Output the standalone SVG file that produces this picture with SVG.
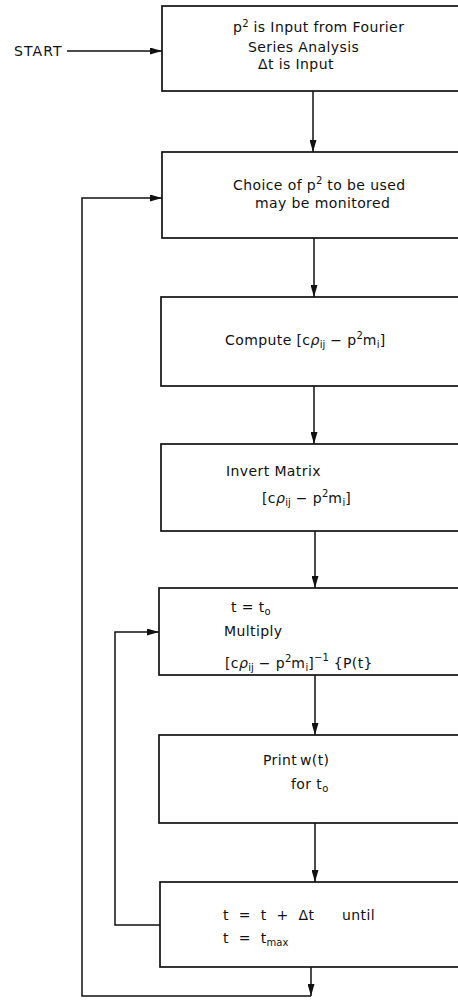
<svg xmlns="http://www.w3.org/2000/svg" width="458" height="1001" viewBox="0 0 458 1001">
<style>
.box{fill:#fff;stroke:#111;stroke-width:1.7}
.con{fill:none;stroke:#111;stroke-width:1.5}
text{font-family:"DejaVu Sans","Liberation Sans",sans-serif;font-size:14px;letter-spacing:0.4px;fill:#111}
.s{font-size:10px;letter-spacing:0}
.w{word-spacing:5px}
</style>
<defs>
<marker id="ah" viewBox="0 0 12 7" refX="12" refY="3.5" markerWidth="12" markerHeight="7" markerUnits="userSpaceOnUse" orient="auto">
<path d="M0,0 L12,3.5 L0,7 Z" fill="#111"/>
</marker>
</defs>
<rect width="458" height="1001" fill="#fff"/>
<g id="connectors">
<line class="con" x1="67" y1="51" x2="162" y2="51" marker-end="url(#ah)"/>
<line class="con" x1="313" y1="91" x2="313" y2="152" marker-end="url(#ah)"/>
<line class="con" x1="314" y1="238" x2="314" y2="297" marker-end="url(#ah)"/>
<line class="con" x1="314" y1="386" x2="314" y2="444" marker-end="url(#ah)"/>
<line class="con" x1="315" y1="531" x2="315" y2="588" marker-end="url(#ah)"/>
<line class="con" x1="315" y1="675" x2="315" y2="735" marker-end="url(#ah)"/>
<line class="con" x1="315" y1="823" x2="315" y2="882" marker-end="url(#ah)"/>
<polyline class="con" points="160,925 115,925 115,632 159,632" marker-end="url(#ah)"/>
<line class="con" x1="311" y1="967" x2="311" y2="996" marker-end="url(#ah)"/>
<polyline class="con" points="311,996 82,996 82,198 162,198" marker-end="url(#ah)"/>
</g>
<g id="start"><text x="14" y="56" style="letter-spacing:1.1px">START</text></g>
<g id="n1">
<rect class="box" x="162" y="6" width="310" height="85"/>
<text x="233" y="32">p<tspan class="s" dy="-5">2</tspan><tspan dy="5"> is Input from Fourier</tspan></text>
<text x="248" y="52">Series Analysis</text>
<text x="258" y="69">Δt is Input</text>
</g>
<g id="n2">
<rect class="box" x="162" y="152" width="310" height="86"/>
<text x="233" y="190">Choice of p<tspan class="s" dy="-6">2</tspan><tspan dy="6"> to be used</tspan></text>
<text x="255" y="208">may be monitored</text>
</g>
<g id="n3">
<rect class="box" x="161" y="297" width="310" height="89"/>
<text x="225" y="345">Compute [c<tspan font-style="italic">ρ</tspan><tspan class="s" dy="3">ij</tspan><tspan dy="-3"> − p</tspan><tspan class="s" dy="-6">2</tspan><tspan dy="6">m</tspan><tspan class="s" dy="3">i</tspan><tspan dy="-3">]</tspan></text>
</g>
<g id="n4">
<rect class="box" x="161" y="444" width="310" height="87"/>
<text x="226" y="476">Invert Matrix</text>
<text x="262" y="503">[c<tspan font-style="italic">ρ</tspan><tspan class="s" dy="3">ij</tspan><tspan dy="-3"> − p</tspan><tspan class="s" dy="-6">2</tspan><tspan dy="6">m</tspan><tspan class="s" dy="3">i</tspan><tspan dy="-3">]</tspan></text>
</g>
<g id="n5">
<rect class="box" x="159" y="588" width="312" height="87"/>
<text x="231" y="612">t = t<tspan class="s" dy="3">o</tspan></text>
<text x="224" y="636">Multiply</text>
<text x="225" y="668">[c<tspan font-style="italic">ρ</tspan><tspan class="s" dy="3">ij</tspan><tspan dy="-3"> − p</tspan><tspan class="s" dy="-6">2</tspan><tspan dy="6">m</tspan><tspan class="s" dy="3">i</tspan><tspan dy="-3">]</tspan><tspan class="s" dy="-7">−1</tspan><tspan dy="7"> {P(t}</tspan></text>
</g>
<g id="n6">
<rect class="box" x="159" y="735" width="312" height="88"/>
<text x="263" y="765">Print<tspan x="300">w(t)</tspan></text>
<text x="291" y="789">for t<tspan class="s" dy="3">o</tspan></text>
</g>
<g id="n7">
<rect class="box" x="160" y="882" width="312" height="85"/>
<text class="w" x="223" y="920">t = t + Δt</text>
<text x="342" y="920">until</text>
<text class="w" x="223" y="943">t = t<tspan class="s" dy="3" style="word-spacing:0">max</tspan></text>
</g>
</svg>
